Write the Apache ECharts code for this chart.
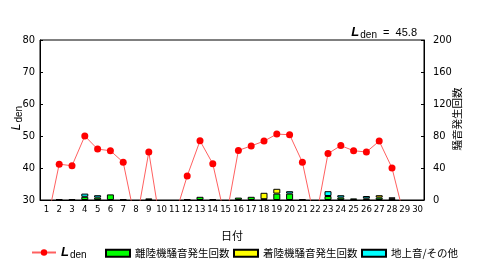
<!DOCTYPE html>
<html><head><meta charset="utf-8">
<script src="https://cdn.jsdelivr.net/npm/echarts@6/dist/echarts.min.js"></script>
<style>html,body{margin:0;padding:0;background:#fff}#c{width:480px;height:263px}</style>
</head><body><div id="c"></div>
<script>
const days = ['1','2','3','4','5','6','7','8','9','10','11','12','13','14','15','16','17','18','19','20','21','22','23','24','25','26','27','28','29','30'];
const lden = [22,41.2,40.7,50.0,45.9,45.4,41.8,22.5,45.0,20,24.5,37.5,48.5,41.3,23.5,45.5,46.9,48.4,50.6,50.4,41.8,23,44.5,47.0,45.4,45.0,48.4,40.0,24,22];
const takeoff = [0,1,1,4,3,7,1,0,2,0,0,1,4,1,0,3,4,1,8,8,1,0,5,3,2,2,3,2,0,0];
const landing = [0,0,0,0,0,0,0,0,0,0,0,0,0,0,0,0,0,8,6,0,0,0,0,0,0,0,3,0,0,0];
const ground  = [0,0,0,4,3,0,0,0,0,0,0,0,0,0,0,0,0,0,0,3,0,0,6,3,0,3,0,1,0,0];
const ldenTotal = '45.8';
const names = ['Lden','離陸機騒音発生回数','着陸機騒音発生回数','地上音/その他'];
const rightAxisName = '騒音発生回数';

const nz = a => a.map(v => v === 0 ? '-' : v);
const nfont = '"Liberation Sans Narrow", "DejaVu Sans Condensed", "Liberation Sans", sans-serif';
const jfont = '"Noto Sans CJK JP", sans-serif';
const ldenRich = {
  l: {fontStyle:'italic', fontSize:13, fontFamily:'Liberation Sans', color:'#000', fontWeight:'bold'},
  s: {fontSize:10, fontFamily:'Liberation Sans', color:'#000', fontWeight:'normal', padding:[5,0,0,1]},
  n: {fontSize:11, fontFamily:'Liberation Sans', color:'#000', fontWeight:'normal'}
};
const chart = echarts.init(document.getElementById('c'), null, {renderer:'canvas'});
const legendBase = {orient:'horizontal', itemHeight:7, itemWidth:24, itemGap:4, textStyle:{fontSize:10.5, fontFamily:jfont, color:'#000'}, selectedMode:false};
chart.setOption({
  animation:false,
  title:{text:'{l|L}{s|den}{n|  =  ' + ldenTotal + '}', right:58, top:20, textStyle:{fontWeight:'normal', rich:ldenRich}},
  grid:{left:40, right:56, top:40, bottom:63, show:true, borderColor:'#000', borderWidth:1, containLabel:false, outerBoundsMode:'none'},
  graphic:[
    {type:'text', x:17, y:118, rotation:Math.PI/2,
      style:{text:'{l|L}{s|den}', align:'center', verticalAlign:'middle',
        rich:{l:Object.assign({}, ldenRich.l, {fontWeight:'normal', fontSize:12}), s:ldenRich.s}}},
    {type:'text', x:457, y:119, rotation:Math.PI/2,
      style:{text:rightAxisName, align:'center', verticalAlign:'middle', font:'10.5px "Noto Sans CJK JP", sans-serif', fill:'#000'}}
  ],
  legend:[
    Object.assign({}, legendBase, {left:26, top:241, itemWidth:24, itemHeight:8, data:[{name:'Lden'}],
      formatter:()=>'{l|L}{s|den}', textStyle:{rich:ldenRich}}),
    Object.assign({}, legendBase, {left:100, top:243, data:[{name:names[1], icon:'rect'}]}),
    Object.assign({}, legendBase, {left:228, top:243, data:[{name:names[2], icon:'rect'}]}),
    Object.assign({}, legendBase, {left:356, top:243, data:[{name:names[3], icon:'rect'}]})
  ],
  xAxis:{type:'category', data:days, name:'日付', nameLocation:'middle', nameGap:30,
    nameTextStyle:{fontSize:11, fontFamily:jfont, color:'#000'},
    axisLine:{lineStyle:{color:'#000'}}, axisTick:{alignWithLabel:true, length:2, lineStyle:{color:'#000'}},
    axisLabel:{fontSize:9.5, color:'#000', margin:5, interval:0, fontFamily:nfont}},
  yAxis:[
    {type:'value', min:30, max:80, interval:10, position:'left',
      axisLine:{show:true, lineStyle:{color:'#000'}}, axisTick:{show:true, inside:true, length:3, lineStyle:{color:'#000'}},
      axisLabel:{fontSize:11, color:'#000', margin:5, fontFamily:nfont}, splitLine:{show:false}},
    {type:'value', min:0, max:200, interval:40, position:'right',
      axisLine:{show:true, lineStyle:{color:'#000'}}, axisTick:{show:true, inside:true, length:3, lineStyle:{color:'#000'}},
      axisLabel:{fontSize:11, color:'#000', margin:9, fontFamily:nfont}, splitLine:{show:false}}
  ],
  series:[
    {name:'Lden', type:'line', yAxisIndex:0, data:lden, clip:true, symbol:'circle', symbolSize:7,
      itemStyle:{color:'#ff0000'}, lineStyle:{color:'#ff6060', width:1}, z:5},
    {name:names[1], type:'bar', yAxisIndex:1, stack:'n', data:nz(takeoff), barWidth:7,
      itemStyle:{color:'#00ff00', borderColor:'#000', borderWidth:1}},
    {name:names[2], type:'bar', yAxisIndex:1, stack:'n', data:nz(landing), barWidth:7,
      itemStyle:{color:'#ffff00', borderColor:'#000', borderWidth:1}},
    {name:names[3], type:'bar', yAxisIndex:1, stack:'n', data:nz(ground), barWidth:7,
      itemStyle:{color:'#00ffff', borderColor:'#000', borderWidth:1}}
  ]
});
</script></body></html>
